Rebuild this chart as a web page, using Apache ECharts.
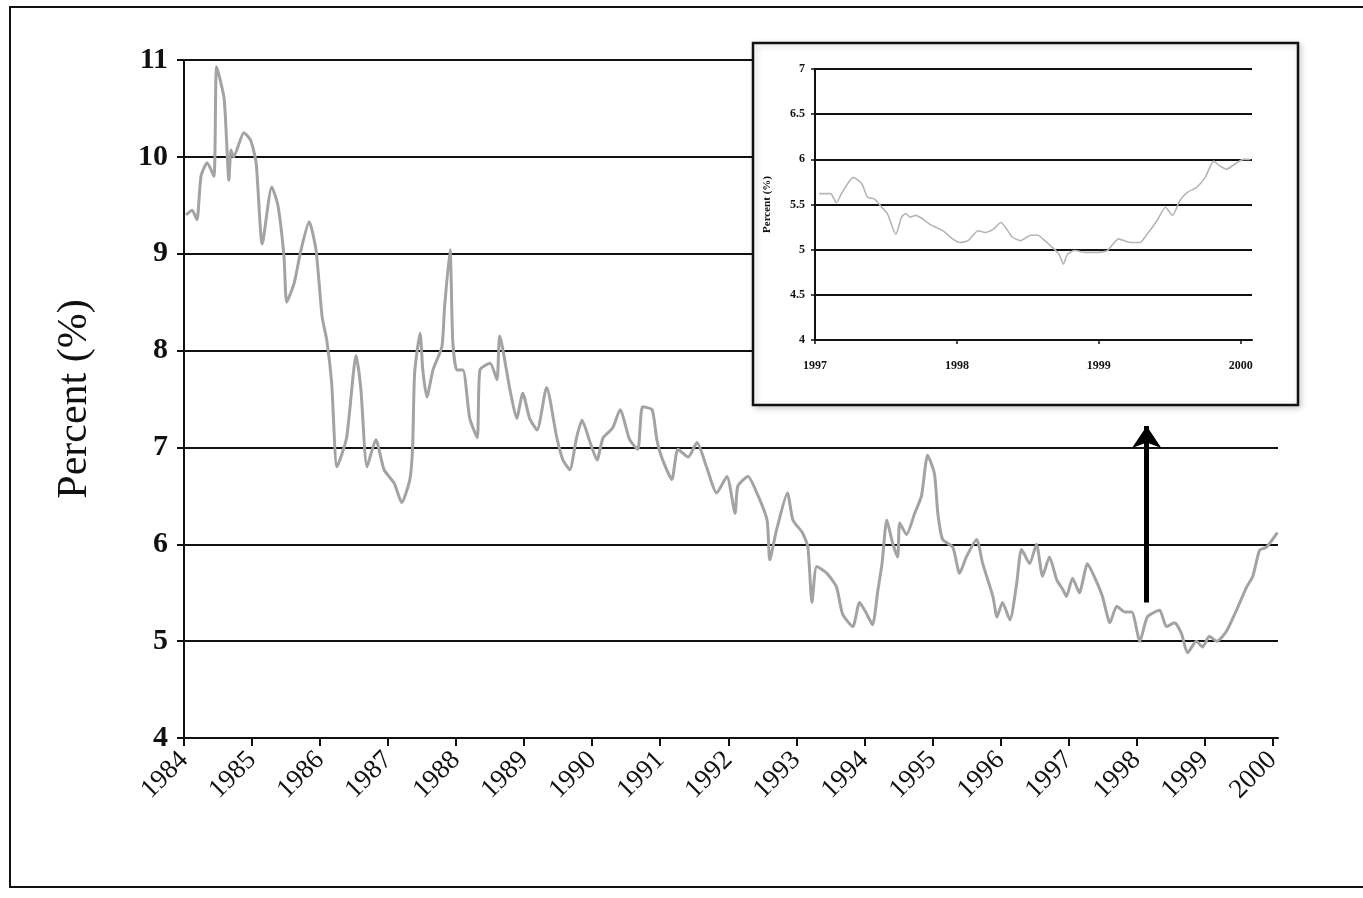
<!DOCTYPE html>
<html>
<head>
<meta charset="utf-8">
<script src="https://cdn.jsdelivr.net/npm/echarts@6/dist/echarts.min.js"></script>
<style>
html,body{margin:0;padding:0;background:#fff;}
#chart{width:1363px;height:898px;}
</style>
</head>
<body>
<div id="chart"></div>
<script>
// ---- data (decimal year, percent) ----
const mainYears = [1984,1985,1986,1987,1988,1989,1990,1991,1992,1993,1994,1995,1996,1997,1998,1999,2000];
const mainYTicks = [4,5,6,7,8,9,10,11];
const mainT = [
1984.03,1984.12,1984.19,1984.25,1984.34,1984.44,1984.48,1984.59,1984.66,1984.69,1984.73,1984.88,1984.98,
1985.06,1985.15,1985.29,1985.38,1985.47,1985.51,1985.62,1985.72,1985.84,1985.94,
1986.03,1986.10,1986.17,1986.25,1986.39,1986.53,1986.60,1986.69,1986.82,1986.94,
1987.09,1987.20,1987.32,1987.36,1987.39,1987.47,1987.51,1987.57,1987.66,1987.79,1987.83,1987.91,1987.95,
1988.01,1988.10,1988.20,1988.31,1988.35,1988.50,1988.60,1988.64,1988.79,1988.89,1988.98,
1989.08,1989.19,1989.33,1989.48,1989.57,1989.67,1989.77,1989.85,1989.97,
1990.07,1990.16,1990.30,1990.41,1990.55,1990.67,1990.74,1990.88,1990.95,
1991.02,1991.17,1991.26,1991.41,1991.54,1991.68,1991.83,1991.98,
1992.10,1992.14,1992.29,1992.42,1992.57,1992.61,1992.71,1992.87,1992.95,
1993.09,1993.17,1993.23,1993.30,1993.45,1993.59,1993.68,1993.83,1993.93,
1994.02,1994.12,1994.20,1994.26,1994.33,1994.42,1994.49,1994.52,1994.62,1994.74,1994.84,1994.93,
1995.03,1995.08,1995.15,1995.30,1995.40,1995.50,1995.65,1995.74,1995.89,1995.95,
1996.03,1996.14,1996.24,1996.31,1996.43,1996.53,1996.62,1996.72,1996.83,1996.92,1996.97,
1997.06,1997.16,1997.28,1997.39,1997.50,1997.61,1997.71,1997.83,1997.93,
1998.05,1998.16,1998.34,1998.44,1998.56,1998.66,1998.75,1998.88,1998.97,
1999.07,1999.18,1999.32,1999.47,1999.62,1999.71,1999.81,1999.91,2000.00,2000.07
];
const mainV = [
9.40,9.45,9.35,9.80,9.94,9.80,10.93,10.60,9.76,10.07,10.00,10.25,10.17,
9.94,9.10,9.69,9.50,8.97,8.50,8.70,9.04,9.33,9.04,
8.35,8.10,7.67,6.80,7.10,7.95,7.60,6.80,7.08,6.77,
6.63,6.43,6.67,7.00,7.77,8.18,7.80,7.52,7.80,8.04,8.45,9.04,8.10,
7.80,7.80,7.30,7.10,7.80,7.87,7.70,8.15,7.60,7.30,7.56,
7.30,7.18,7.62,7.10,6.87,6.77,7.10,7.28,7.05,
6.87,7.10,7.20,7.39,7.08,6.98,7.42,7.39,7.08,
6.90,6.67,6.98,6.90,7.05,6.80,6.53,6.70,
6.32,6.60,6.70,6.53,6.25,5.84,6.15,6.53,6.25,
6.12,5.97,5.40,5.77,5.70,5.56,5.28,5.15,5.40,
5.30,5.17,5.53,5.80,6.25,6.00,5.87,6.22,6.10,6.32,6.50,6.92,
6.73,6.32,6.05,5.97,5.70,5.87,6.05,5.80,5.46,5.25,
5.40,5.22,5.60,5.95,5.80,6.00,5.67,5.87,5.63,5.53,5.46,
5.65,5.50,5.80,5.65,5.46,5.19,5.36,5.30,5.30,
5.00,5.25,5.32,5.15,5.19,5.08,4.88,5.00,4.94,
5.05,5.00,5.10,5.32,5.56,5.67,5.94,5.97,6.05,6.12
];

const insetYears = [1997,1998,1999,2000];
const insetT = [
1997.03,1997.11,1997.15,1997.19,1997.27,1997.33,1997.37,1997.42,1997.47,1997.51,1997.57,1997.61,1997.64,1997.67,1997.71,1997.76,1997.81,1997.90,1997.97,
1998.02,1998.08,1998.15,1998.20,1998.26,1998.31,1998.39,1998.45,1998.52,1998.57,1998.62,1998.72,1998.75,1998.78,1998.83,1998.91,1998.99,
1999.06,1999.14,1999.22,1999.29,1999.34,1999.41,1999.47,1999.52,1999.57,1999.62,1999.69,1999.75,1999.81,1999.85,1999.90,1999.97,2000.02,2000.07
];
const insetV = [
5.62,5.62,5.52,5.63,5.80,5.73,5.58,5.56,5.47,5.40,5.17,5.36,5.40,5.36,5.38,5.34,5.28,5.21,5.12,
5.08,5.10,5.21,5.19,5.23,5.30,5.14,5.10,5.16,5.16,5.10,4.95,4.84,4.95,4.99,4.97,4.97,
4.99,5.12,5.08,5.08,5.17,5.32,5.47,5.38,5.54,5.63,5.69,5.80,5.98,5.93,5.89,5.96,6.00,6.00
];
const insetYTicks = [4,4.5,5,5.5,6,6.5,7];

// arrow annotation (data coordinates)
const arrowYear = 1998.15;
const arrowFrom = 5.40;
const arrowTo = 7.22;

const serif = '"Liberation Serif", "Times New Roman", serif';
const ink = '#111';

const chart = echarts.init(document.getElementById('chart'), null, {renderer: 'canvas'});

const option = {
  animation: false,
  backgroundColor: '#fff',
  graphic: [
    { type: 'rect', z: 1, silent: true,
      shape: { x: 10, y: 7, width: 1370, height: 880 },
      style: { fill: 'none', stroke: '#111', lineWidth: 2 } },
    { type: 'rect', z: 10, silent: true,
      shape: { x: 753, y: 43, width: 545, height: 362 },
      style: { fill: '#fff', stroke: '#111', lineWidth: 2.5,
               shadowBlur: 6, shadowColor: 'rgba(0,0,0,0.18)', shadowOffsetX: 2, shadowOffsetY: 2 } }
  ],
  grid: [
    { left: 184, right: 85, top: 60, bottom: 160 },
    { left: 815, right: 111, top: 69, bottom: 558, z: 20 }
  ],
  xAxis: [
    { type: 'value', gridIndex: 0, min: 1984, max: 2000.08, interval: 1,
      axisLine: { show: true, onZero: false, lineStyle: { color: ink, width: 2 } },
      axisTick: { show: true, length: 8, customValues: mainYears, lineStyle: { color: ink, width: 2 } },
      axisLabel: { customValues: mainYears, rotate: 45, margin: 18, color: ink,
                   fontFamily: serif, fontSize: 27,
                   formatter: v => (Math.abs(v - Math.round(v)) < 1e-6 ? String(Math.round(v)) : '') },
      splitLine: { show: false } },
    { type: 'value', gridIndex: 1, min: 1997, max: 2000.08, interval: 1, z: 21,
      axisLine: { show: true, onZero: false, lineStyle: { color: ink, width: 2 } },
      axisTick: { show: true, length: 4, customValues: insetYears, lineStyle: { color: ink, width: 1.5 } },
      axisLabel: { customValues: insetYears, margin: 20, color: ink, fontFamily: serif,
                   fontSize: 12, fontWeight: 'bold',
                   formatter: v => (Math.abs(v - Math.round(v)) < 1e-6 ? String(Math.round(v)) : '') },
      splitLine: { show: false } }
  ],
  yAxis: [
    { type: 'value', gridIndex: 0, min: 4, max: 11, interval: 1,
      name: 'Percent (%)', nameLocation: 'middle', nameGap: 88, nameRotate: 90,
      nameTextStyle: { fontFamily: serif, fontSize: 42, color: ink },
      axisLine: { show: true, lineStyle: { color: ink, width: 2 } },
      axisTick: { show: true, length: 7, lineStyle: { color: ink, width: 2 } },
      axisLabel: { margin: 16, color: ink, fontFamily: serif, fontSize: 30, fontWeight: 'bold' },
      splitLine: { show: true, lineStyle: { color: ink, width: 2 } } },
    { type: 'value', gridIndex: 1, min: 4, max: 7, interval: 0.5, z: 21,
      name: 'Percent (%)', nameLocation: 'middle', nameGap: 42, nameRotate: 90,
      nameTextStyle: { fontFamily: serif, fontSize: 11, fontWeight: 'bold', color: ink },
      axisLine: { show: true, lineStyle: { color: ink, width: 2 } },
      axisTick: { show: true, length: 4, lineStyle: { color: ink, width: 1.5 } },
      axisLabel: { margin: 10, color: ink, fontFamily: serif, fontSize: 12, fontWeight: 'bold' },
      splitLine: { show: true, lineStyle: { color: ink, width: 2 } } }
  ],
  series: [
    { type: 'line', xAxisIndex: 0, yAxisIndex: 0, z: 3,
      data: mainT.map((t, i) => [t, mainV[i]]),
      symbol: 'none', smooth: 0.2,
      lineStyle: { color: '#a3a3a3', width: 3 },
      markLine: {
        silent: true, symbol: ['none', 'arrow'], symbolSize: 22,
        label: { show: false },
        lineStyle: { color: '#000', width: 5, type: 'solid' },
        data: [[ { coord: [arrowYear, arrowFrom] }, { coord: [arrowYear, arrowTo] } ]]
      } },
    { type: 'line', xAxisIndex: 1, yAxisIndex: 1, z: 22,
      data: insetT.map((t, i) => [t, insetV[i]]),
      symbol: 'none', smooth: 0.2,
      lineStyle: { color: '#b5b5b5', width: 1.6 } }
  ]
};
chart.setOption(option);
</script>
</body>
</html>
